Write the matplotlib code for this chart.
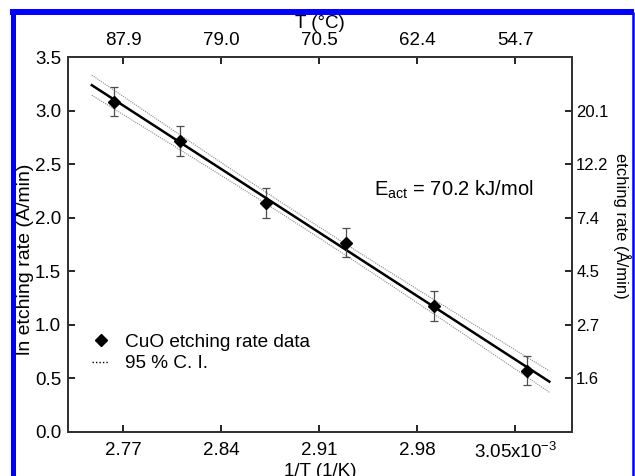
import numpy as np
import matplotlib
matplotlib.use("Agg")
import matplotlib.pyplot as plt
from matplotlib.lines import Line2D

plt.rcParams['font.family'] = ['Liberation Sans', 'DejaVu Sans']
plt.rcParams['mathtext.fontset'] = 'custom'
plt.rcParams['mathtext.rm'] = 'Liberation Sans'
plt.rcParams['mathtext.it'] = 'Liberation Sans'

# ---- data (1/T in 1e-3 1/K, ln rate) ----
inv_T = [2.7637, 2.8106, 2.8717, 2.9289, 2.9919, 3.0586]
ln_rate = [3.084, 2.720, 2.141, 1.768, 1.179, 0.572]
ln_err = [0.135, 0.14, 0.14, 0.135, 0.14, 0.137]

bottom_ticks = [2.77, 2.84, 2.91, 2.98, 3.05]
bottom_labels = ['2.77', '2.84', '2.91', '2.98', '3.05x10$^{-3}$']
top_labels = ['87.9', '79.0', '70.5', '62.4', '54.7']
right_ticks = [0.5, 1.0, 1.5, 2.0, 2.5, 3.0]
right_labels = ['1.6', '2.7', '4.5', '7.4', '12.2', '20.1']
left_ticks = [0.0, 0.5, 1.0, 1.5, 2.0, 2.5, 3.0, 3.5]
fit_range = [2.7476, 3.0743]
E_act_text = 'E$_{\\mathrm{act}}$ = 70.2 kJ/mol'

# ---- fit and 95% CI ----
x = np.array(inv_T)
y = np.array(ln_rate)
n = len(x)
slope, intercept = np.polyfit(x, y, 1)
resid = y - (slope * x + intercept)
s = np.sqrt(np.sum(resid ** 2) / (n - 2))
t975 = 2.776  # t(0.975, df=4)
xm = x.mean()
sxx = np.sum((x - xm) ** 2)
xf = np.linspace(fit_range[0], fit_range[1], 200)
yf = slope * xf + intercept
half = t975 * s * np.sqrt(1.0 / n + (xf - xm) ** 2 / sxx)

fig = plt.figure(figsize=(6.35, 4.76), dpi=100)
ax = fig.add_axes([68 / 635, 44 / 476, 504 / 635, 375 / 476])

ax.plot(xf, yf, color='black', lw=1.8, zorder=3)
ax.plot(xf, yf + half, color='0.55', lw=0.8, ls=(0, (1, 1)), zorder=2)
ax.plot(xf, yf - half, color='0.55', lw=0.8, ls=(0, (1, 1)), zorder=2)
ax.errorbar(x, y, yerr=ln_err, fmt='none', ecolor='0.3', elinewidth=0.9,
            capsize=3, capthick=0.9, zorder=4)
ax.plot(x, y, 'D', color='black', ms=6, zorder=5)

ax.set_xlim(2.7306, 3.0905)
ax.set_ylim(0, 3.5)
ax.set_xticks(bottom_ticks)
ax.set_xticklabels(bottom_labels)
ax.set_yticks(left_ticks)
ax.set_yticklabels([f'{v:.1f}' for v in left_ticks])
ax.tick_params(axis='x', direction='in', length=5, width=1.2, labelsize=13.5, pad=7)
ax.tick_params(axis='y', direction='in', length=5, width=1.2, labelsize=13.5, pad=5)
ax.set_xlabel('1/T (1/K)', fontsize=13.5, labelpad=1)
ax.set_ylabel('ln etching rate (Å/min)', fontsize=14)
ax.yaxis.set_label_coords(-0.068, 0.46)
for sp in ax.spines.values():
    sp.set_linewidth(1.4)
    sp.set_color('0.2')

axt = ax.twiny()
axt.set_xlim(ax.get_xlim())
axt.set_xticks(bottom_ticks)
axt.set_xticklabels(top_labels)
axt.tick_params(direction='in', length=5, width=1.2, labelsize=13.5, pad=6)
axt.set_xlabel('T (°C)', fontsize=13.5, labelpad=3)

axr = ax.twinx()
axr.set_ylim(ax.get_ylim())
axr.set_yticks(right_ticks)
axr.set_yticklabels(right_labels)
axr.tick_params(direction='in', length=5, width=1.2, labelsize=12, pad=3)
axr.set_ylabel('etching rate (Å/min)', fontsize=12, rotation=270)
axr.yaxis.set_label_coords(1.116, 0.55)
for a in (axt, axr):
    for sp in a.spines.values():
        sp.set_linewidth(1.4)
        sp.set_color('0.2')

ax.text(2.9488, 2.26, E_act_text, fontsize=14.5, va='center', ha='left')

handles = [Line2D([], [], marker='D', color='black', ls='none', ms=6),
           Line2D([], [], color='black', ls=(0, (1, 1.5)), lw=1)]
ax.legend(handles, ['CuO etching rate data', '95 % C. I.'], loc='upper left',
          bbox_to_anchor=(0.048, 0.262), frameon=False, fontsize=13.7,
          handlelength=0.9, handletextpad=0.85, labelspacing=0.2,
          borderaxespad=0, borderpad=0)

# blue frame
blue = (0, 0, 1)
fig.add_artist(Line2D([12.5 / 635, 12.5 / 635], [0, 1 - 12 / 476], color=blue, lw=3.6,
                      transform=fig.transFigure, solid_capstyle='butt'))
fig.add_artist(Line2D([10 / 635, 634 / 635], [1 - 12 / 476, 1 - 12 / 476], color=blue, lw=4.3,
                      transform=fig.transFigure, solid_capstyle='butt'))
fig.add_artist(Line2D([632.5 / 635, 632.5 / 635], [0, 1 - 12 / 476], color=blue, lw=1.8,
                      transform=fig.transFigure, solid_capstyle='butt'))

fig.savefig('out.png', dpi=100)
